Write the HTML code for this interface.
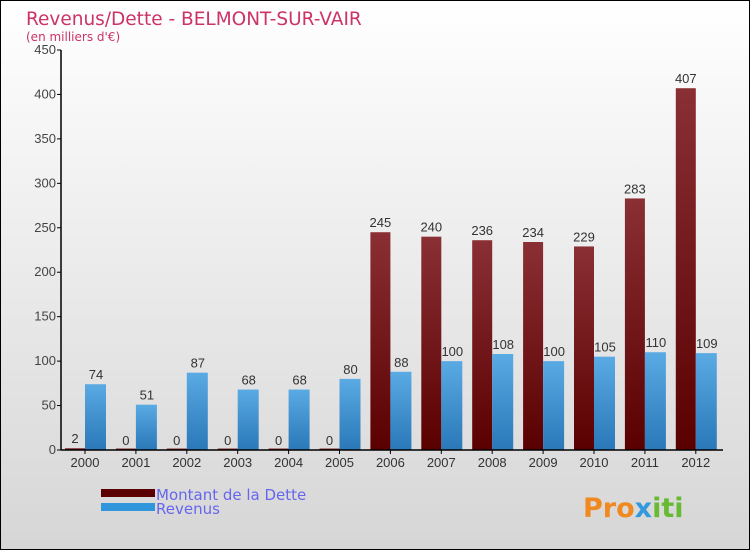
<!DOCTYPE html>
<html><head><meta charset="utf-8"><style>
html,body{margin:0;padding:0}
body{width:750px;height:550px;overflow:hidden;font-family:"DejaVu Sans","Liberation Sans",sans-serif}
#wrap{position:relative;width:748px;height:548px;border:1px solid #000;background:linear-gradient(#ffffff,#d6d6d6)}
.num{font-family:"Liberation Sans",sans-serif}
</style></head><body>
<div id="wrap">
<svg id="chart" width="748" height="548" style="position:absolute;left:0;top:0">
<defs>
<linearGradient id="gD" x1="0" y1="0" x2="0" y2="1"><stop offset="0" stop-color="#8a3035"/><stop offset="1" stop-color="#5a0000"/></linearGradient>
<linearGradient id="gR" x1="0" y1="0" x2="0" y2="1"><stop offset="0" stop-color="#5aaae4"/><stop offset="1" stop-color="#2a78b8"/></linearGradient>
</defs>
<text x="25" y="24" font-size="18.5" fill="#cc3366">Revenus/Dette - BELMONT-SUR-VAIR</text>
<text x="25" y="40" font-size="12" fill="#cc3366">(en milliers d'€)</text>
<g id="grid"></g>
<g id="bars"></g>
<g id="axes"></g>
<rect x="100" y="488" width="54" height="8" fill="#5a0000"/>
<rect x="100" y="502" width="54" height="8" fill="#2f96dc"/>
<text x="155" y="499" font-size="15" fill="#6666ee">Montant de la Dette</text>
<text x="155" y="513" font-size="15" fill="#6666ee">Revenus</text>
<text x="582" y="516" font-size="27" font-weight="bold" fill="#f08a20">Pro<tspan fill="#3399dd">x</tspan><tspan fill="#66bb33">iti</tspan></text>
</svg>
</div>
<script>
const years=["2000","2001","2002","2003","2004","2005","2006","2007","2008","2009","2010","2011","2012"];
const dette=[2,0,0,0,0,0,245,240,236,234,229,283,407];
const revenus=[74,51,87,68,68,80,88,100,108,100,105,110,109];
const yTicks=[0,50,100,150,200,250,300,350,400,450];
const NS="http://www.w3.org/2000/svg";
const gB=document.getElementById('bars'),gA=document.getElementById('axes');
function y(v){return 449-v*(400/450);}
function x(i){return 84+i*50.9;}
function mk(tag,attrs,parent){const e=document.createElementNS(NS,tag);for(const k in attrs)e.setAttribute(k,attrs[k]);parent.appendChild(e);return e;}
mk('line',{x1:60,y1:y(450),x2:60,y2:y(0),stroke:'#000','stroke-width':1.5},gA);
mk('line',{x1:60,y1:y(0),x2:722,y2:y(0),stroke:'#000','stroke-width':1.5},gA);
yTicks.forEach(t=>{
 const l=mk('line',{x1:56,y1:y(t),x2:60,y2:y(t),stroke:'#000'},gA);
 
 
 const tx=mk('text',{x:55,y:y(t)+4,'font-size':13,'text-anchor':'end',fill:'#444',class:'num'},gA);
 tx.textContent=t;
 
 
});
years.forEach((yr,i)=>{
 const c=x(i);
 const tk=mk('line',{x1:c,y1:y(0),x2:c,y2:y(0)+4,stroke:'#000'},gA);
 
 
 const xl=mk('text',{x:c,y:466,'font-size':13,'text-anchor':'middle',fill:'#333',class:'num'},gA);
 xl.textContent=yr;
 
 
 const hd=Math.max(dette[i]*(400/450),1.5);
 const bd=mk('rect',{x:c-20,y:y(0)-hd,width:20,height:hd,fill:'url(#gD)'},gB);
 
 
 const ld=mk('text',{x:c-10,y:y(dette[i])-5,'font-size':13,'text-anchor':'middle',fill:'#333',class:'num'},gB);
 ld.textContent=dette[i];
 
 
 const hr=revenus[i]*(400/450);
 const br=mk('rect',{x:c,y:y(0)-hr,width:21,height:hr,fill:'url(#gR)'},gB);
 
 
 const lr=mk('text',{x:c+11,y:y(revenus[i])-5,'font-size':13,'text-anchor':'middle',fill:'#333',class:'num'},gB);
 lr.textContent=revenus[i];
 
 
});
</script>
</body></html>
